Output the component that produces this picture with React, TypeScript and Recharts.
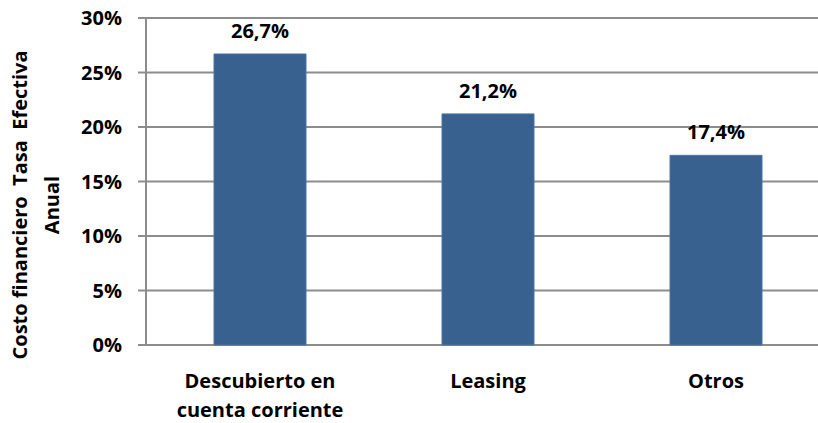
import { BarChart, Bar, XAxis, YAxis, CartesianGrid, LabelList } from "recharts";

const categories = [["Descubierto en", "cuenta corriente"], ["Leasing"], ["Otros"]];
const rates = [26.7, 21.2, 17.4];
const yTicks = [0, 5, 10, 15, 20, 25, 30];
const boundaryTicks = [0, 1, 2, 3];

const FONT = "'Open Sans', sans-serif";
const FS = 20;
const GRID = "#8c8c8c";
const BAR = "#38618f";

const data = categories.map((lines, i) => ({
  name: lines.join("\n"),
  pos: i + 0.5,
  rate: rates[i],
}));

// category label, one or two lines under the axis
function CategoryTick({ x, y, payload }: any) {
  const lines = String(payload.value).split("\n");
  return (
    <text x={x} y={y} textAnchor="middle" fontFamily={FONT} fontWeight={700} fontSize={FS} fill="#000">
      {lines.map((l, i) => (
        <tspan key={i} x={x} dy={i === 0 ? 0 : 29}>{l}</tspan>
      ))}
    </text>
  );
}

function AxisTitle() {
  const cy = 205;
  return (
    <g fontFamily={FONT} fontWeight={700} fontSize={FS} fill="#000">
      <text x={0} y={0} textAnchor="middle" xmlSpace="preserve" transform={`translate(27,${cy}) rotate(-90)`}>
        {"Costo financiero  Tasa  Efectiva"}
      </text>
      <text x={0} y={0} textAnchor="middle" transform={`translate(59,${cy}) rotate(-90)`}>
        Anual
      </text>
    </g>
  );
}

export default function App() {
  return (
    <div style={{ position: "fixed", left: 0, top: 0, width: 818, height: 423, overflow: "hidden", background: "#fff" }}>
      <BarChart width={840} height={423} data={data} margin={{ top: 18, right: 10, bottom: 0, left: 0 }}>
        <CartesianGrid horizontal vertical={false} stroke={GRID} strokeWidth={2} />
        <XAxis
          xAxisId="b"
          type="number"
          dataKey="pos"
          domain={[0, 3]}
          ticks={boundaryTicks}
          height={0}
          tick={false}
          tickSize={9}
          stroke={GRID}
          tickLine={{ stroke: GRID, strokeWidth: 2 }}
          axisLine={{ stroke: GRID, strokeWidth: 2 }}
        />
        <XAxis
          xAxisId="c"
          dataKey="name"
          height={78}
          axisLine={false}
          tickLine={false}
          tickSize={0}
          tickMargin={43}
          interval={0}
          tick={<CategoryTick />}
        />
        <YAxis
          width={146}
          domain={[0, 30]}
          ticks={yTicks}
          interval={0}
          tickFormatter={(v) => `${v}%`}
          tickSize={8}
          tickMargin={16}
          stroke={GRID}
          tickLine={{ stroke: GRID, strokeWidth: 2 }}
          axisLine={{ stroke: GRID, strokeWidth: 2 }}
          tick={{ fontFamily: FONT, fontWeight: 700, fontSize: FS, fill: "#000" }}
          label={<AxisTitle />}
        />
        <Bar xAxisId="c" dataKey="rate" fill={BAR} stroke="#4a74a6" strokeWidth={1} isAnimationActive={false} barSize={92}>
          <LabelList
            dataKey="rate"
            position="top"
            offset={16}
            formatter={(v: any) => `${Number(v).toFixed(1).replace(".", ",")}%`}
            style={{ fontFamily: FONT, fontWeight: 700, fontSize: FS, fill: "#000" }}
          />
        </Bar>
      </BarChart>
    </div>
  );
}
